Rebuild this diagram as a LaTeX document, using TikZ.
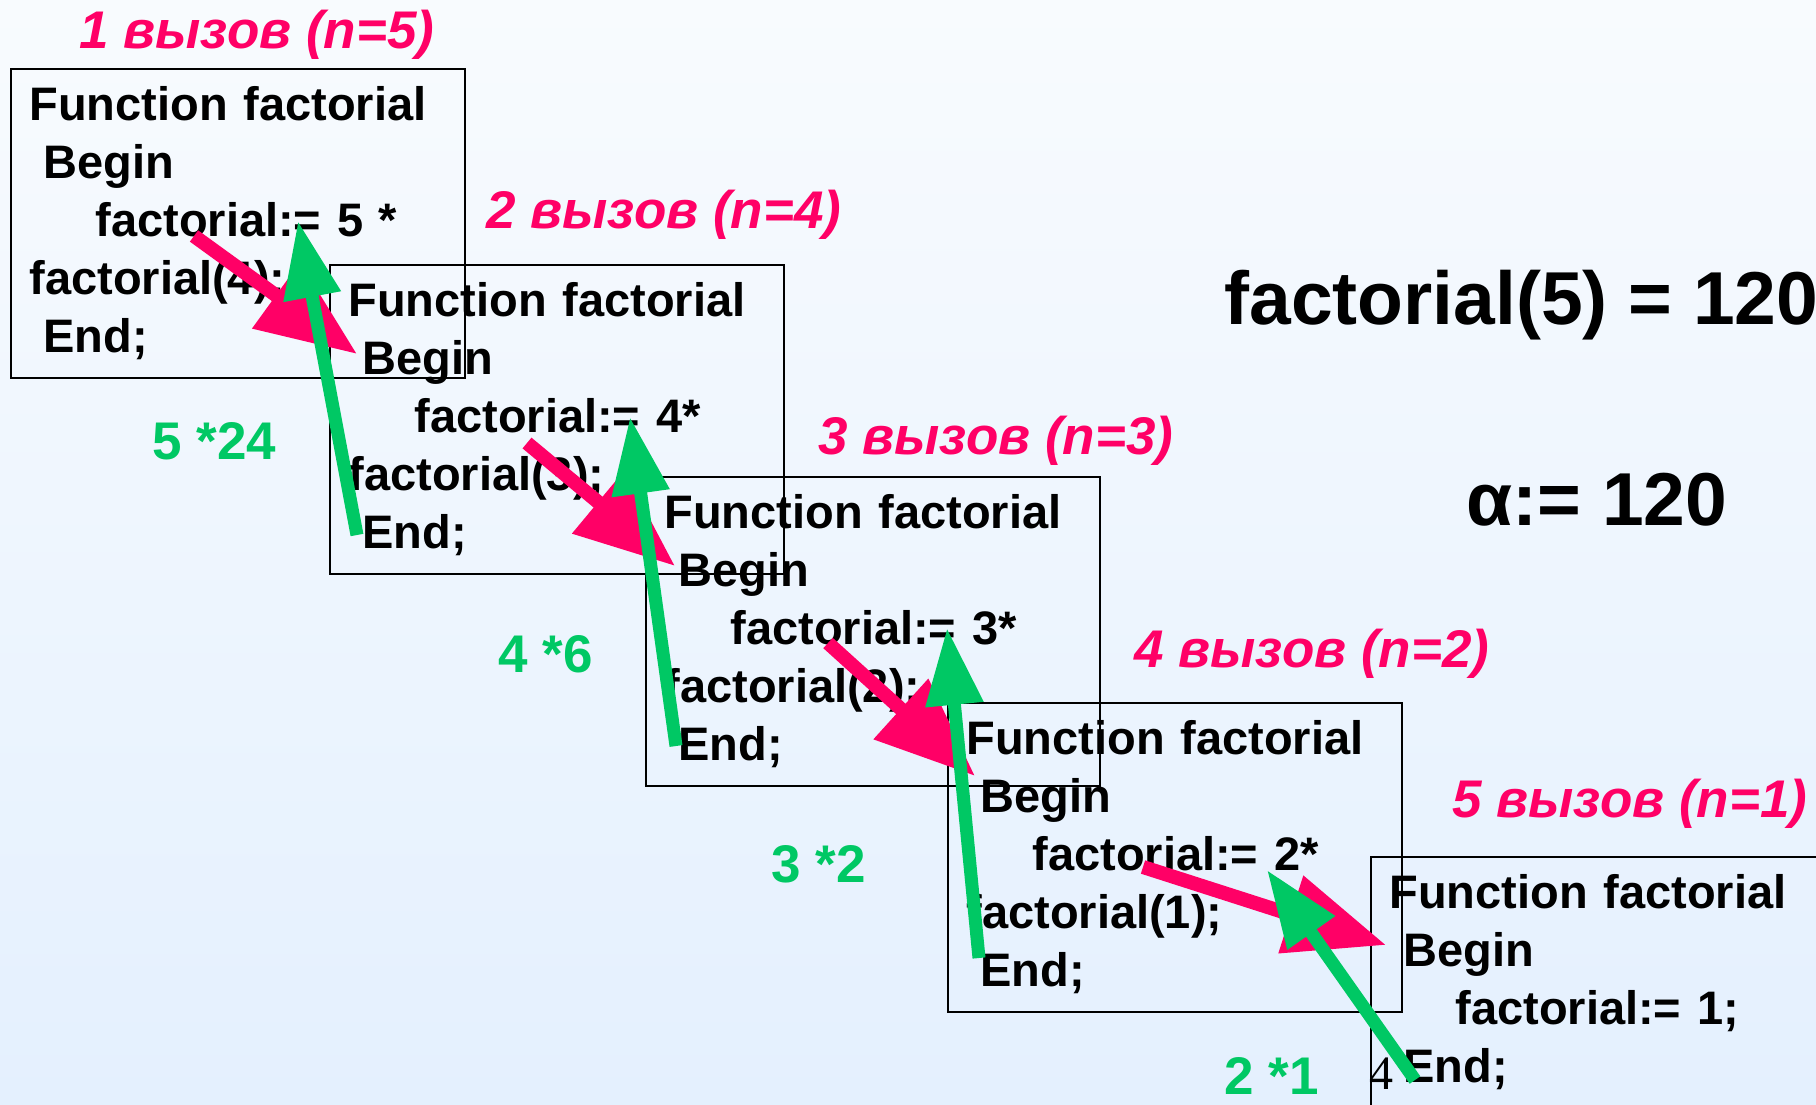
\documentclass[tikz,border=0pt]{standalone}
\usepackage{fontspec}
\setmainfont{Liberation Sans}
\newfontfamily\slidenum{Liberation Serif}
\usetikzlibrary{arrows.meta}

\definecolor{callred}{RGB}{255,0,102}
\definecolor{retgreen}{RGB}{0,200,100}
\definecolor{bgtop}{RGB}{248,251,254}
\definecolor{bgbot}{RGB}{228,240,254}

\newcommand{\ind}{\hspace*{7pt}}
\newcommand{\indd}{\hspace*{33pt}}

\begin{document}
\begin{tikzpicture}[x=0.5pt,y=-0.5pt,
  frame/.style={draw,line width=1pt,anchor=north west,minimum width=227pt,minimum height=154.5pt,
    text width=208.5pt,inner xsep=9.25pt,inner ysep=0pt,align=left,font=\fontsize{23.5}{29}\selectfont\bfseries},
  callnote/.style={text=callred,anchor=west,inner sep=0pt,font=\fontsize{26.5}{30}\selectfont\bfseries\itshape},
  retnote/.style={text=retgreen,anchor=west,inner sep=0pt,font=\fontsize{26.5}{30}\selectfont\bfseries},
  result/.style={anchor=west,inner sep=0pt,font=\fontsize{37.5}{40}\selectfont\bfseries},
  callarrow/.style={draw=callred,line width=7pt,-{Triangle[length=50pt,width=39pt]}},
  retarrow/.style={draw=retgreen,line width=6.5pt,-{Triangle[length=38.5pt,width=27.5pt]}}]
  \useasboundingbox (0,0) rectangle (1816,1104);
  \clip (0,0) rectangle (1816,1104);
  \shade[top color=bgtop,bottom color=bgbot] (0,0) rectangle (1816,1104);

  % the five calls
  \node[frame] (c1) at (10,68) {Function factorial\\\ind Begin\\\indd factorial:= 5 *\\factorial(4);\\\ind End;};
  \node[frame] (c2) at (329,264) {Function factorial\\\ind Begin\\\indd factorial:= 4*\\factorial(3);\\\ind End;};
  \node[frame] (c3) at (645,476) {Function factorial\\\ind Begin\\\indd factorial:= 3*\\factorial(2);\\\ind End;};
  \node[frame] (c4) at (947,702) {Function factorial\\\ind Begin\\\indd factorial:= 2*\\factorial(1);\\\ind End;};
  \node[frame,minimum height=125.5pt] (c5) at (1370,856) {Function factorial\\\ind Begin\\\indd factorial:= 1;\\\ind End;};

  \node[callnote] (n1) at (79,35) {1 вызов (n=5)};
  \node[callnote] (n2) at (486,215) {2 вызов (n=4)};
  \node[callnote] (n3) at (818,441) {3 вызов (n=3)};
  \node[callnote] (n4) at (1134,654) {4 вызов (n=2)};
  \node[callnote] (n5) at (1452,804) {5 вызов (n=1)};

  \node[retnote] (v1) at (152,441) {5 *24};
  \node[retnote] (v2) at (498,654) {4 *6};
  \node[retnote] (v3) at (771,864) {3 *2};
  \node[retnote] (v4) at (1224,1076) {2 *1};

  \node[result] (res) at (1224,305) {factorial(5) = 120};
  \node[result] (alpha) at (1466,500) {α:= 120};
  \node[anchor=west,inner sep=0pt,font=\slidenum\fontsize{24}{26}\selectfont] (page) at (1369,1074) {4};

  % calls going down
  \coordinate (d1s) at (194,236); \coordinate (d1e) at (357,354);
  \coordinate (d2s) at (527,443); \coordinate (d2e) at (675,566);
  \coordinate (d3s) at (828,643); \coordinate (d3e) at (975,776);
  \coordinate (d4s) at (1143,867); \coordinate (d4e) at (1386,945);
  \draw[callarrow] (d1s) -- (d1e);
  \draw[callarrow] (d2s) -- (d2e);
  \draw[callarrow] (d3s) -- (d3e);
  \draw[callarrow] (d4s) -- (d4e);

  % values going back up
  \coordinate (u1s) at (357,535); \coordinate (u1e) at (298,221);
  \coordinate (u2s) at (676,746); \coordinate (u2e) at (630,417);
  \coordinate (u3s) at (979,958); \coordinate (u3e) at (947,628);
  \coordinate (u4s) at (1415,1080); \coordinate (u4e) at (1267,870);
  \draw[retarrow] (u1s) -- (u1e);
  \draw[retarrow] (u2s) -- (u2e);
  \draw[retarrow] (u3s) -- (u3e);
  \draw[retarrow] (u4s) -- (u4e);
\end{tikzpicture}
\end{document}
